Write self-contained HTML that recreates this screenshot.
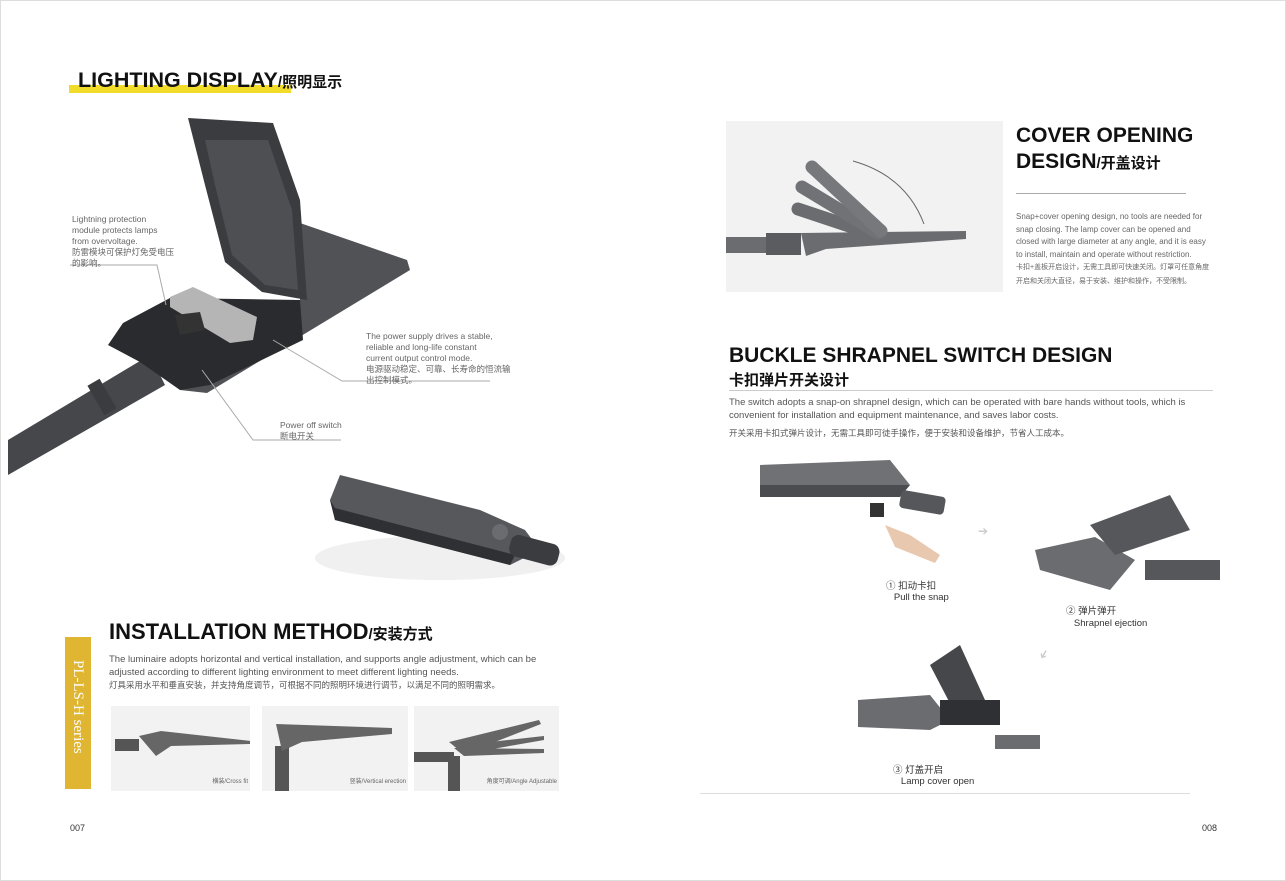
<!DOCTYPE html>
<html><head><meta charset="utf-8">
<style>
*{margin:0;padding:0;box-sizing:border-box}
body{width:1286px;height:881px;background:#fff;position:relative;overflow:hidden;font-family:"Liberation Sans","Noto Sans CJK SC",sans-serif;color:#222}
.a{position:absolute;white-space:nowrap}
.h{font-weight:bold;font-size:22px;color:#111}
.s{font-size:8.5px;color:#666;line-height:11px}
.p{font-size:9.5px;color:#555;line-height:12.5px}
.ln{position:absolute;height:1px;background:#bbb}
.box{position:absolute;background:#f2f2f2}
</style></head><body>
<div style="position:absolute;left:0;top:0;width:1286px;height:881px;border:1px solid #ddd"></div>

<!-- LEFT PAGE -->
<div class="a" style="left:69px;top:85px;width:222px;height:8px;background:#f2dc2a"></div>
<div class="a h" style="left:78px;top:68px;font-size:21.5px">LIGHTING DISPLAY<span style="font-size:15px">/照明显示</span></div>

<svg class="a" style="left:0;top:0" width="620" height="600">
 <polygon points="8,475 8,440 150,355 165,385" fill="#45474b"/>
 <rect x="95" y="380" width="14" height="34" fill="#3a3c40" transform="rotate(-30 102 397)"/>
 <polygon points="300,223 407,260 410,270 207,393 180,390 300,300" fill="#505256"/>
 <polygon points="108,345 123,323 170,298 300,300 303,340 210,385 180,390 140,362" fill="#2a2b2e"/>
 <polygon points="170,297 193,287 257,317 253,340 230,343 170,307" fill="#b5b5b5"/>
 <polygon points="175,315 200,312 205,330 180,335" fill="#333"/>
 <polygon points="188,118 273,123 300,200 307,300 262,292 225,262 205,185" fill="#3a3c40"/>
 <polygon points="205,140 268,140 292,210 298,290 265,285 232,255 215,185" fill="#4d4f53"/>
 <polyline points="70,265 157,265 166,305" stroke="#aaa" fill="none"/>
 <polyline points="273,340 342,381 490,381" stroke="#aaa" fill="none"/>
 <polyline points="202,370 253,440 341,440" stroke="#aaa" fill="none"/>
</svg>
<div class="a s" style="left:72px;top:214px">Lightning protection<br>module protects lamps<br>from overvoltage.<br>防雷模块可保护灯免受电压<br>的影响。</div>
<div class="a s" style="left:366px;top:331px">The power supply drives a stable,<br>reliable and long-life constant<br>current output control mode.<br>电源驱动稳定、可靠、长寿命的恒流输<br>出控制模式。</div>
<div class="a s" style="left:280px;top:420px">Power off switch<br>断电开关</div>

<svg class="a" style="left:310px;top:470px" width="260" height="125">
 <ellipse cx="130" cy="88" rx="125" ry="22" fill="#f0f0f0"/>
 <polygon points="30,5 170,40 215,60 230,80 200,95 25,50 20,30" fill="#56585c"/>
 <polygon points="20,30 25,50 200,95 205,85 25,38" fill="#2e3033"/>
 <rect x="200" y="68" width="50" height="22" rx="8" fill="#3a3c40" transform="rotate(15 220 77)"/>
 <circle cx="190" cy="62" r="8" fill="#6a6c70"/>
</svg>

<div class="a" style="left:65px;top:637px;width:26px;height:152px;background:#dfb531"></div>
<div class="a" style="left:64px;top:660px;width:28px;height:110px;color:#fff;font-family:'Liberation Serif',serif;font-size:15px;writing-mode:vertical-rl;line-height:28px">PL-LS-H series</div>
<div class="a h" style="left:109px;top:619px">INSTALLATION METHOD<span style="font-size:15px">/安装方式</span></div>
<div class="a p" style="left:109px;top:654px">The luminaire adopts horizontal and vertical installation, and supports angle adjustment, which can be<br>adjusted according to different lighting environment to meet different lighting needs.<br><span style="font-size:8.5px">灯具采用水平和垂直安装，并支持角度调节，可根据不同的照明环境进行调节，以满足不同的照明需求。</span></div>

<div class="box" style="left:111px;top:706px;width:139px;height:85px"><svg width="139" height="85"><rect x="4" y="33" width="24" height="12" fill="#555"/><polygon points="28,30 50,25 140,35 140,38 60,40 45,50" fill="#666"/></svg><span class="a" style="right:2px;bottom:6px;font-size:6px;color:#666">横装/Cross fit</span></div>
<div class="box" style="left:262px;top:706px;width:146px;height:85px"><svg width="146" height="85"><rect x="13" y="40" width="14" height="45" fill="#555"/><polygon points="14,18 130,22 130,28 40,36 20,45" fill="#666"/></svg><span class="a" style="right:2px;bottom:6px;font-size:6px;color:#666">竖装/Vertical erection</span></div>
<div class="box" style="left:414px;top:706px;width:145px;height:85px"><svg width="145" height="85"><rect x="0" y="46" width="40" height="10" fill="#555"/><rect x="34" y="50" width="12" height="35" fill="#555"/><polygon points="35,36 125,14 127,18 50,48" fill="#666"/><polygon points="40,40 130,30 130,34 50,48" fill="#666"/><polygon points="40,42 130,43 130,47 50,50" fill="#666"/></svg><span class="a" style="right:2px;bottom:6px;font-size:6px;color:#666">角度可调/Angle Adjustable</span></div>
<div class="a" style="left:70px;top:823px;font-size:9px;color:#333">007</div>

<!-- RIGHT PAGE -->
<div class="box" style="left:726px;top:121px;width:277px;height:171px"><svg width="277" height="171">
 <rect x="0" y="116" width="45" height="16" fill="#6a6c70"/>
 <rect x="40" y="112" width="35" height="22" fill="#5a5c60"/>
 <polygon points="75,112 240,110 240,118 100,128 80,135" fill="#6a6c70"/>
 <line x1="72" y1="88" x2="150" y2="114" stroke="#6a6c70" stroke-width="13" stroke-linecap="round"/>
 <line x1="76" y1="66" x2="152" y2="112" stroke="#707276" stroke-width="13" stroke-linecap="round"/>
 <line x1="86" y1="46" x2="155" y2="110" stroke="#76787c" stroke-width="13" stroke-linecap="round"/>
 <path d="M127 40 Q180 55 198 103" stroke="#666" fill="none"/>
</svg></div>
<div class="a h" style="left:1016px;top:123px;line-height:26px;font-size:21px">COVER OPENING<br>DESIGN<span style="font-size:15px">/开盖设计</span></div>
<div class="ln" style="left:1016px;top:193px;width:170px;background:#aaa"></div>
<div class="a" style="left:1016px;top:211px;font-size:8px;color:#666;line-height:12.5px">Snap+cover opening design, no tools are needed for<br>snap closing. The lamp cover can be opened and<br>closed with large diameter at any angle, and it is easy<br>to install, maintain and operate without restriction.<br><span style="font-size:7px">卡扣+盖板开启设计，无需工具即可快速关闭。灯罩可任意角度<br>开启和关闭大直径，易于安装、维护和操作，不受限制。</span></div>

<div class="a h" style="left:729px;top:344px;font-size:21px">BUCKLE SHRAPNEL SWITCH DESIGN</div>
<div class="a" style="left:729px;top:369px;font-size:15px;font-weight:bold;color:#111">卡扣弹片开关设计</div>
<div class="ln" style="left:729px;top:390px;width:484px;background:#ccc"></div>
<div class="a p" style="left:729px;top:397px;line-height:12.5px">The switch adopts a snap-on shrapnel design, which can be operated with bare hands without tools, which is<br>convenient for installation and equipment maintenance, and saves labor costs.<br><span style="font-size:8.5px;line-height:22px">开关采用卡扣式弹片设计，无需工具即可徒手操作，便于安装和设备维护，节省人工成本。</span></div>

<svg class="a" style="left:750px;top:455px" width="480" height="310">
 <polygon points="10,10 140,5 160,30 150,40 10,42" fill="#6f7175"/>
 <polygon points="10,30 160,30 150,42 10,42" fill="#4a4c50"/>
 <rect x="150" y="38" width="45" height="18" rx="4" fill="#55575b" transform="rotate(10 170 47)"/>
 <rect x="120" y="48" width="14" height="14" fill="#333"/>
 <polygon points="135,70 160,80 190,100 185,108 145,92" fill="#e9c8b0"/>
 <text x="228" y="80" fill="#ccc" font-size="12">➔</text>
 <polygon points="285,95 345,82 385,105 360,135 290,115" fill="#6a6c70"/>
 <polygon points="340,70 420,40 440,75 365,100" fill="#55575b"/>
 <rect x="395" y="105" width="75" height="20" fill="#55575b"/>
 <text x="290" y="205" fill="#ccc" font-size="12" transform="rotate(120 295 200)">➔</text>
 <polygon points="108,245 180,240 200,265 180,275 108,272" fill="#6a6c70"/>
 <polygon points="180,210 210,190 235,245 205,258" fill="#45474b"/>
 <rect x="190" y="245" width="60" height="25" fill="#2e3033"/>
 <rect x="245" y="280" width="45" height="14" fill="#6a6c70"/>
</svg>
<div class="a" style="left:886px;top:581px;font-size:9.5px;color:#333;line-height:11px">① 扣动卡扣<br>&nbsp;&nbsp;&nbsp;Pull the snap</div>
<div class="a" style="left:1066px;top:606px;font-size:9.5px;color:#333;line-height:12px">② 弹片弹开<br>&nbsp;&nbsp;&nbsp;Shrapnel ejection</div>
<div class="a" style="left:893px;top:765px;font-size:9.5px;color:#333;line-height:11px">③ 灯盖开启<br>&nbsp;&nbsp;&nbsp;Lamp cover open</div>
<div class="ln" style="left:700px;top:793px;width:490px;background:#ddd"></div>
<div class="a" style="left:1202px;top:823px;font-size:9px;color:#333">008</div>
</body></html>
